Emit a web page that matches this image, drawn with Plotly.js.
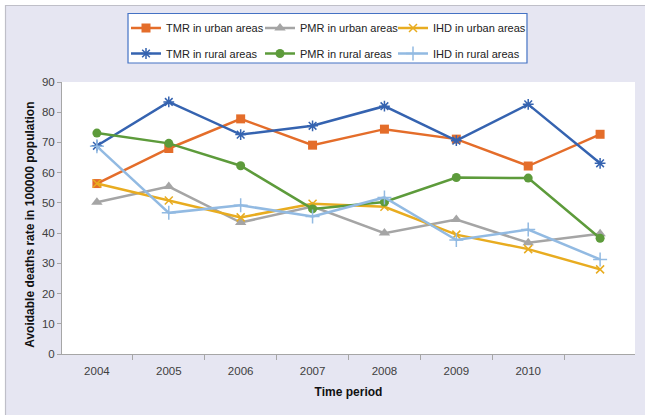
<!DOCTYPE html>
<html>
<head>
<meta charset="utf-8">
<script src="https://cdn.plot.ly/plotly-3.0.1.min.js"></script>
<style>
  html, body { margin: 0; padding: 0; background: #ffffff; }
  #chart { width: 645px; height: 415px; }
</style>
</head>
<body>
<div id="chart"></div>
<script>
// avoidable deaths rate, urban vs rural, by year
const years = ["2004", "2005", "2006", "2007", "2008", "2009", "2010", "2011"];
const yearLabels = ["2004", "2005", "2006", "2007", "2008", "2009", "2010", ""];

const tmrUrban = [56.4, 68.0, 77.8, 69.1, 74.4, 71.1, 62.2, 72.7];
const pmrUrban = [50.2, 55.4, 43.5, 48.8, 40.0, 44.5, 36.8, 39.8];
const ihdUrban = [56.4, 50.8, 45.2, 49.7, 48.7, 39.5, 34.7, 28.0];
const tmrRural = [68.9, 83.4, 72.6, 75.5, 82.0, 70.6, 82.6, 63.1];
const pmrRural = [73.1, 69.7, 62.3, 48.0, 50.3, 58.4, 58.2, 38.3];
const ihdRural = [68.7, 46.7, 49.2, 45.5, 51.8, 37.7, 41.2, 31.3];

const C = {
  orange: "#E46D2A",
  gray: "#A5A5A5",
  gold: "#E8AC20",
  blue: "#3563B0",
  green: "#5D9B3B",
  sky: "#92BAE2",
  axis: "#A6A6A6",
  tick: "#404040",
  paper: "#E6E6F2",
  frame: "#BFBFC8",
  legendLine: "#4472C4"
};

const SANS = "Liberation Sans, Arial, sans-serif";

function series(name, y, color, symbol, size, legend, open) {
  return {
    x: years,
    y: y,
    name: name,
    type: "scatter",
    mode: "lines+markers",
    legend: legend,
    line: { color: color, width: 2.5 },
    marker: {
      symbol: symbol,
      size: size,
      color: color,
      line: { color: color, width: open ? 1.5 : 0 }
    }
  };
}

const traces = [
  series("TMR in urban areas", tmrUrban, C.orange, "square", 9, "legend", false),
  series("PMR in urban areas", pmrUrban, C.gray, "triangle-up", 10, "legend2", false),
  series("IHD in urban areas", ihdUrban, C.gold, "x-thin-open", 8, "legend3", true),
  series("TMR in rural areas", tmrRural, C.blue, "asterisk-open", 9, "legend4", true),
  series("PMR in rural areas", pmrRural, C.green, "circle", 9, "legend5", false),
  series("IHD in rural areas", ihdRural, C.sky, "cross-thin-open", 10, "legend6", true)
];

// one legend per entry so the 3x2 grid sits where the reference has it
function legendAt(px, py) {
  return {
    orientation: "v",
    xanchor: "left",
    yanchor: "middle",
    x: (px - 62) / 573,
    y: (354 - py) / 272,
    bgcolor: "rgba(0,0,0,0)",
    borderwidth: 0,
    font: { family: SANS, size: 11, color: "#222222" },
    itemclick: false,
    itemdoubleclick: false
  };
}

const layout = {
  width: 645,
  height: 415,
  margin: { l: 62, r: 10, t: 82, b: 61 },
  paper_bgcolor: C.paper,
  plot_bgcolor: "#ffffff",
  showlegend: true,
  legend: legendAt(126, 28),
  legend2: legendAt(260, 28),
  legend3: legendAt(393, 28),
  legend4: legendAt(126, 53.5),
  legend5: legendAt(260, 53.5),
  legend6: legendAt(393, 53.5),
  xaxis: {
    type: "category",
    tickmode: "array",
    tickvals: years,
    ticktext: yearLabels,
    tickson: "boundaries",
    ticks: "outside",
    ticklen: 5,
    tickcolor: C.axis,
    ticklabelstandoff: 6,
    showline: true,
    linecolor: C.axis,
    linewidth: 1,
    showgrid: false,
    zeroline: false,
    tickfont: { family: SANS, size: 11.5, color: C.tick },
    title: {
      text: "<b>Time period</b>",
      font: { family: SANS, size: 12, color: "#111111" },
      standoff: 11
    }
  },
  yaxis: {
    range: [0, 90],
    dtick: 10,
    ticks: "outside",
    ticklen: 4,
    tickcolor: C.axis,
    showline: true,
    linecolor: C.axis,
    linewidth: 1,
    showgrid: false,
    zeroline: false,
    tickfont: { family: SANS, size: 11.5, color: C.tick },
    title: {
      text: "<b>Avoidable deaths rate in 100000 population</b>&nbsp;&nbsp;&nbsp;&nbsp;",
      font: { family: SANS, size: 12, color: "#111111" },
      standoff: 4
    }
  },
  shapes: [
    // white margin outside the chart frame
    { type: "rect", xref: "paper", yref: "paper", x0: -0.2, x1: -0.0986, y0: -0.4, y1: 1.5,
      fillcolor: "#ffffff", line: { width: 0 }, layer: "above" },
    { type: "rect", xref: "paper", yref: "paper", x0: -0.2, x1: 1.2, y0: 1.2813, y1: 1.5,
      fillcolor: "#ffffff", line: { width: 0 }, layer: "above" },
    { type: "path", xref: "paper", yref: "paper",
      path: "M -0.0986,-0.4 L -0.0986,1.2813 L 1.2,1.2813",
      line: { color: C.frame, width: 1.2 }, layer: "above" },
    // legend box
    { type: "rect", xref: "paper", yref: "paper", x0: 0.1152, x1: 0.8115, y0: 1.0699, y1: 1.2518,
      fillcolor: "#ffffff", line: { color: C.legendLine, width: 1.2 }, layer: "above" }
  ]
};

Plotly.newPlot("chart", traces, layout, { displayModeBar: false, staticPlot: true });
</script>
</body>
</html>
